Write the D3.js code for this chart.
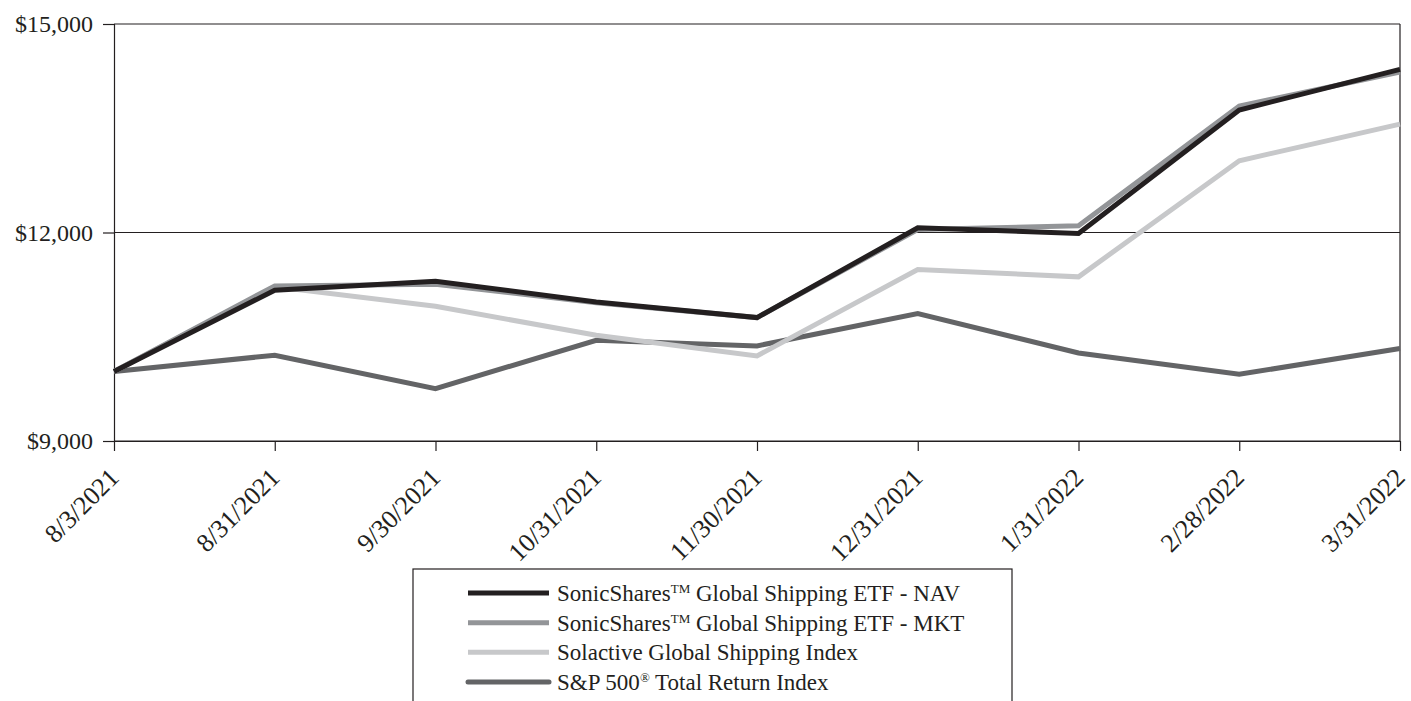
<!DOCTYPE html>
<html>
<head>
<meta charset="utf-8">
<script src="https://cdn.jsdelivr.net/npm/d3@7"></script>
<style>
  html, body { margin: 0; padding: 0; background: #fff; }
  svg { display: block; }
  text { font-family: "Liberation Serif", "Times New Roman", serif; fill: #231f20; }
</style>
</head>
<body>
<svg id="chart" width="1411" height="701"></svg>
<script>
const dates = ["8/3/2021", "8/31/2021", "9/30/2021", "10/31/2021", "11/30/2021", "12/31/2021", "1/31/2022", "2/28/2022", "3/31/2022"];
const navValues = [10000, 11170, 11300, 11000, 10776, 12067, 11986, 13762, 14347];
const mktValues = [10000, 11232, 11256, 10990, 10776, 12043, 12096, 13819, 14309];
const solactiveValues = [10000, 11218, 10939, 10521, 10224, 11467, 11362, 13032, 13560];
const spValues = [10000, 10234, 9754, 10449, 10368, 10834, 10267, 9960, 10330];
const yTicks = [9000, 12000, 15000];
const seriesNames = ["SonicShares\u2122 Global Shipping ETF - NAV", "SonicShares\u2122 Global Shipping ETF - MKT", "Solactive Global Shipping Index", "S&P 500\u00AE Total Return Index"];

const colors = ["#231f20", "#939598", "#c7c8ca", "#636466"];

(function () {
const svg = d3.select("#chart");
const mLeft = 114, mRight = 1400, mTop = 24, mBottom = 441;

const x = d3.scalePoint().domain(dates).range([mLeft, mRight]);
const y = d3.scaleLinear().domain([9000, 15000]).range([mBottom, mTop]);

// gridlines
svg.append("g").selectAll("line").data(yTicks).join("line")
  .attr("x1", mLeft).attr("x2", mRight)
  .attr("y1", d => y(d)).attr("y2", d => y(d))
  .attr("stroke", "#231f20").attr("stroke-width", 1.2);

// right border
svg.append("line").attr("x1", mRight).attr("x2", mRight).attr("y1", mTop).attr("y2", mBottom)
  .attr("stroke", "#231f20").attr("stroke-width", 1.2);

// y axis
const yAxis = d3.axisLeft(y).tickValues(yTicks).tickSize(11).tickPadding(10)
  .tickFormat(d => "$" + d3.format(",")(d));
const gy = svg.append("g").attr("transform", `translate(${mLeft},0)`).call(yAxis);
gy.select(".domain").attr("stroke", "#231f20").attr("stroke-width", 1.2);
gy.selectAll(".tick line").attr("stroke", "#231f20").attr("stroke-width", 1.2);
gy.selectAll("text").style("font-size", "24px").style("font-family", "Liberation Serif").attr("fill", "#231f20");

// x axis
const xAxis = d3.axisBottom(x).tickSize(10).tickSizeOuter(0);
const gx = svg.append("g").attr("transform", `translate(0,${mBottom})`).call(xAxis);
gx.select(".domain").attr("stroke", "#231f20").attr("stroke-width", 1.2);
gx.selectAll(".tick line").attr("stroke", "#231f20").attr("stroke-width", 1.2);
gx.selectAll("text")
  .style("font-size", "26px").style("font-family", "Liberation Serif")
  .attr("fill", "#231f20")
  .attr("text-anchor", "end")
  .attr("x", 0).attr("y", 0).attr("dy", 0)
  .attr("transform", "translate(6,38) rotate(-45)");

// lines
const series = [navValues, mktValues, solactiveValues, spValues];
const line = d3.line().x((d, i) => x(dates[i])).y(d => y(d));
const drawOrder = [3, 2, 1, 0];
drawOrder.forEach(k => {
  svg.append("path")
    .datum(series[k])
    .attr("d", line)
    .attr("fill", "none")
    .attr("stroke", colors[k])
    .attr("stroke-width", 5)
    .attr("stroke-linejoin", "miter");
});

// legend
const lg = svg.append("g");
lg.append("rect").attr("x", 413).attr("y", 569).attr("width", 599).attr("height", 150)
  .attr("fill", "#fff").attr("stroke", "#231f20").attr("stroke-width", 1.2);
const rowY = d3.scaleLinear().domain([0, 3]).range([593, 682]);
seriesNames.forEach((name, i) => {
  lg.append("line").attr("x1", 468).attr("x2", 549)
    .attr("y1", rowY(i)).attr("y2", rowY(i))
    .attr("stroke", colors[i]).attr("stroke-width", 5)
    .attr("stroke-linecap", i === 3 ? "round" : "butt");
  const t = lg.append("text").attr("x", 557).attr("y", rowY(i) + 8).style("font-size", "23px").style("font-family", "Liberation Serif");
  const m = name.match(/^(.*?)([\u2122\u00AE])(.*)$/);
  if (m) {
    t.append("tspan").text(m[1]);
    t.append("tspan").text(m[2] === "\u2122" ? "TM" : "\u00AE").style("font-size", "13px").attr("dy", -8);
    t.append("tspan").text(m[3]).attr("dy", 8);
  } else {
    t.text(name);
  }
});
})();
</script>
</body>
</html>
